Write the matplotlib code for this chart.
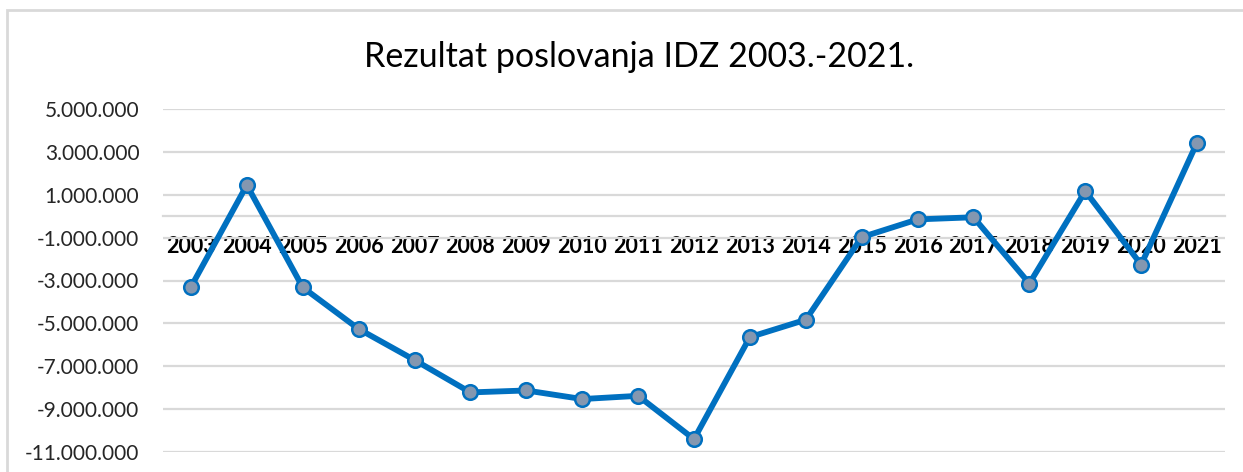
import matplotlib.pyplot as plt
from matplotlib.patches import Rectangle
from matplotlib.ticker import FuncFormatter

plt.rcParams['font.family'] = ['Lato', 'DejaVu Sans']

# podaci (procijenjeno s grafa)
godine = ['2003', '2004', '2005', '2006', '2007', '2008', '2009', '2010', '2011', '2012',
          '2013', '2014', '2015', '2016', '2017', '2018', '2019', '2020', '2021']
rezultat = [-3300000, 1450000, -3320000, -5260000, -6710000, -8220000, -8130000, -8530000,
            -8380000, -10400000, -5640000, -4830000, -980000, -150000, -50000, -3140000,
            1170000, -2260000, 3430000]
y_ticks = [-11000000, -9000000, -7000000, -5000000, -3000000, -1000000,
           1000000, 3000000, 5000000]

W, H = 1243, 472
fig = plt.figure(figsize=(W / 100, H / 100), dpi=100)
ax = fig.add_axes([163 / W, 1 - 452 / H, (1225 - 163) / W, (452 - 109) / H])

grid_col = '#d9d9d9'
x = list(range(len(godine)))
ax.plot(x, rezultat, color='#0070c0', lw=4.2, marker='o', markersize=10.5,
        markerfacecolor='#8497b0', markeredgecolor='#0070c0', markeredgewidth=1.8,
        zorder=3)

ax.set_xlim(-0.5, len(godine) - 0.5)
ax.set_ylim(-11000000, 5000000)
ax.set_yticks(y_ticks)
ax.yaxis.set_major_formatter(FuncFormatter(lambda v, p: f'{int(v):,}'.replace(',', '.')))
ax.tick_params(axis='y', length=0, pad=17, labelsize=15, labelcolor='#262626')
ax.grid(axis='y', color=grid_col, lw=1.6, zorder=0)

# kategorije uz os na nuli
ax.spines['bottom'].set_position(('data', 0))
ax.spines['bottom'].set_color(grid_col)
ax.spines['bottom'].set_linewidth(1.6)
for s in ['top', 'right', 'left']:
    ax.spines[s].set_visible(False)
ax.set_xticks(x)
ax.set_xticklabels(godine, fontweight='bold', fontsize=15.5)
ax.tick_params(axis='x', length=0, pad=14.5)

fig.text(639 / W, 1 - 57 / H, 'Rezultat poslovanja IDZ 2003.-2021.',
         ha='center', va='center', fontsize=24.5, color='#000000')

# okvir grafikona
fig.patches.append(Rectangle((7 / W, -0.1), 1.2, 1 - 10 / H + 0.1,
                             transform=fig.transFigure, fill=False,
                             edgecolor=grid_col, lw=2))

fig.savefig('out.png', dpi=100)
